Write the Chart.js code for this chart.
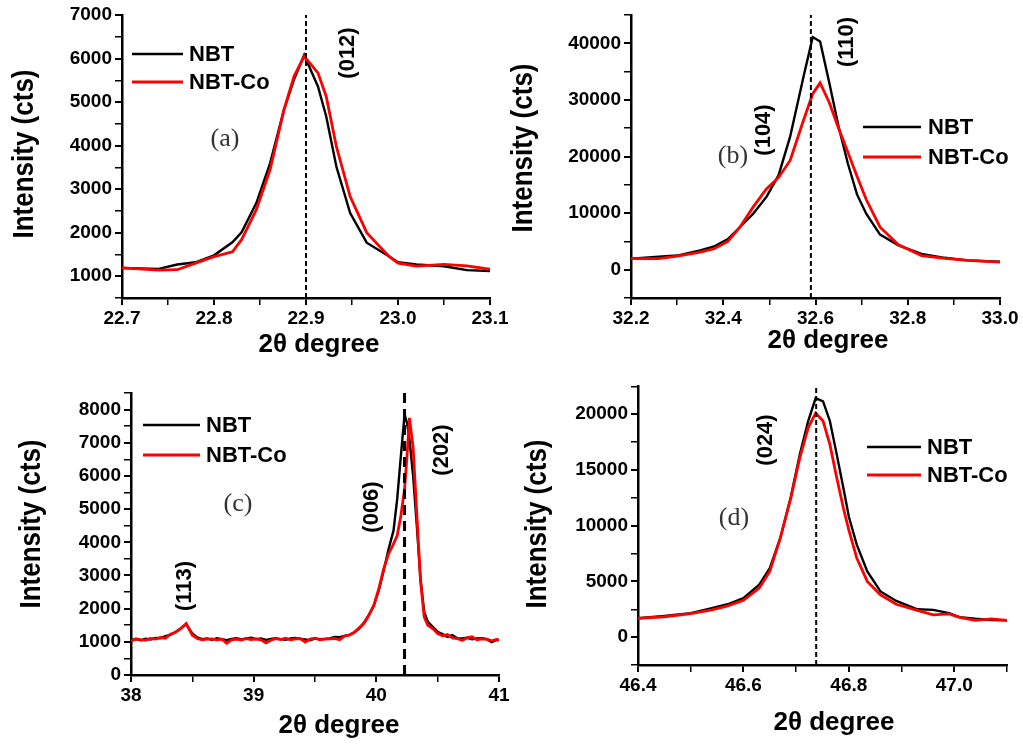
<!DOCTYPE html>
<html>
<head>
<meta charset="utf-8">
<script src="https://cdn.jsdelivr.net/npm/chart.js@4.4.1/dist/chart.umd.min.js"></script>
<style>
  body { margin: 0; background: #fff; width: 1023px; height: 744px; position: relative; overflow: hidden; }
  canvas { position: absolute; }
</style>
</head>
<body>
<canvas id="chartA" width="512" height="372" style="left:0;top:0"></canvas>
<canvas id="chartB" width="519" height="372" style="left:504px;top:0"></canvas>
<canvas id="chartC" width="512" height="372" style="left:0;top:372px"></canvas>
<canvas id="chartD" width="519" height="372" style="left:504px;top:372px"></canvas>
<script>
// --- Data: panel (a), (012) peak ---
const aTheta = [22.70, 22.74, 22.76, 22.78, 22.80, 22.82, 22.83, 22.846, 22.861, 22.876, 22.887, 22.898, 22.913, 22.922, 22.933, 22.948, 22.966, 22.99, 23.00, 23.02, 23.05, 23.075, 23.10];
const aNBT   = [1190, 1170, 1270, 1320, 1480, 1780, 2010, 2680, 3600, 4820, 5520, 6080, 5360, 4670, 3520, 2450, 1770, 1460, 1320, 1270, 1230, 1140, 1120];
const aNBTCo = [1190, 1140, 1150, 1300, 1450, 1560, 1840, 2530, 3450, 4820, 5590, 6050, 5670, 5130, 3980, 2830, 2000, 1460, 1300, 1230, 1270, 1240, 1160];
const aPeak = 22.9;

// --- Data: panel (b), (104)/(110) peaks ---
const bTheta = [32.20, 32.26, 32.30, 32.35, 32.38, 32.41, 32.436, 32.465, 32.494, 32.52, 32.545, 32.574, 32.594, 32.61, 32.63, 32.65, 32.67, 32.69, 32.71, 32.74, 32.78, 32.83, 32.88, 32.93, 33.00];
const bNBT   = [1950, 2300, 2500, 3400, 4100, 5400, 7500, 9900, 12900, 16700, 23500, 34100, 41100, 40300, 33000, 25300, 18800, 13300, 9900, 6200, 4300, 2800, 2100, 1650, 1400];
const bNBTCo = [1950, 1950, 2400, 3100, 3700, 5000, 7500, 11100, 14300, 16300, 19300, 26400, 31100, 33000, 29500, 25000, 20800, 16500, 12400, 7500, 4400, 2500, 2000, 1650, 1350];
const bPeak = 32.59;

// --- Data: panel (c), (113)/(006)/(202) peaks ---
const cTheta = [38.00, 38.04, 38.08, 38.12, 38.16, 38.20, 38.24, 38.28, 38.32, 38.36, 38.40, 38.45, 38.50, 38.54, 38.58, 38.62, 38.66, 38.70, 38.74, 38.78,
                38.82, 38.86, 38.90, 38.94, 38.98, 39.02, 39.06, 39.10, 39.14, 39.18, 39.22, 39.26, 39.30, 39.34, 39.38, 39.42, 39.46, 39.50, 39.54, 39.58,
                39.62, 39.66, 39.70, 39.74, 39.78, 39.82, 39.86, 39.90, 39.94, 39.98, 40.02, 40.06, 40.10, 40.14, 40.17, 40.20, 40.23, 40.25, 40.27, 40.30,
                40.33, 40.36, 40.39, 40.42, 40.46, 40.50, 40.54, 40.58, 40.62, 40.66, 40.70, 40.74, 40.78, 40.82, 40.86, 40.90, 40.94, 40.98, 41.00];
const cNBT   = [1060, 1080, 1050, 1090, 1070, 1120, 1110, 1170, 1210, 1290, 1390, 1530, 1250, 1130, 1080, 1100, 1060, 1110, 1080, 1050,
                1090, 1110, 1070, 1100, 1120, 1080, 1100, 1060, 1090, 1110, 1080, 1060, 1100, 1120, 1090, 1070, 1050, 1100, 1080, 1090,
                1100, 1150, 1140, 1180, 1210, 1290, 1400, 1580, 1820, 2100, 2550, 3150, 3800, 4350, 5300, 6600, 7850, 7600, 7100, 6000,
                4500, 2900, 1900, 1600, 1450, 1300, 1230, 1150, 1200, 1110, 1100, 1120, 1080, 1100, 1110, 1080, 990, 1060, 1050];
const cNBTCo = [1020, 1090, 1060, 1050, 1100, 1080, 1130, 1110, 1230, 1280, 1380, 1550, 1200, 1100, 1060, 1080, 1090, 1060, 1080, 960,
                1060, 1080, 1050, 1100, 1070, 1090, 1060, 970, 1050, 1100, 1070, 1110, 1060, 1090, 1100, 990, 1080, 1110, 1060, 1080,
                1090, 1100, 1060, 1170, 1200, 1280, 1420, 1560, 1800, 2100, 2600, 3200, 3650, 3950, 4200, 4800, 5600, 6600, 7750, 6850,
                4850, 2850, 1750, 1500, 1400, 1250, 1180, 1220, 1120, 1100, 1040, 1120, 1150, 1060, 1090, 1080, 1030, 1070, 1060];
const cPeak = 40.23;

// --- Data: panel (d), (024) peak ---
const dTheta = [46.40, 46.45, 46.50, 46.54, 46.57, 46.60, 46.63, 46.65, 46.67, 46.69, 46.707, 46.723, 46.737, 46.751, 46.764, 46.777, 46.79, 46.80, 46.815, 46.835, 46.86, 46.89, 46.93, 46.96, 46.99, 47.01, 47.04, 47.07, 47.10];
const dNBT   = [1700, 1900, 2150, 2600, 2950, 3500, 4700, 6200, 8900, 12600, 16400, 19400, 21450, 21150, 19400, 16400, 13300, 10800, 8300, 5900, 4100, 3250, 2500, 2450, 2150, 1800, 1650, 1540, 1500];
const dNBTCo = [1680, 1830, 2100, 2450, 2800, 3300, 4400, 5900, 8900, 12500, 16100, 18800, 20100, 19400, 17300, 14300, 11500, 9600, 7100, 5000, 3800, 2950, 2400, 2000, 2090, 1770, 1500, 1640, 1500];
const dPeak = 46.738;

const seriesNames = ['NBT', 'NBT-Co'];
const RED = '#ff0000';
const SANS = "'Liberation Sans', Arial, sans-serif";
const SERIF = "'Liberation Serif', 'Times New Roman', serif";

// --- Helpers ---
function isMult(v, step) {
  const r = v / step;
  return Math.abs(r - Math.round(r)) < 1e-6;
}

// draws legend, peak labels and axis titles
const panelText = {
  id: 'panelText',
  afterDraw(chart, args, o) {
    const c = chart.ctx;
    c.save();
    // legend
    [['#000', 2.4], [RED, 2.8]].forEach((s, i) => {
      const y = o.legend.y[i];
      c.strokeStyle = s[0];
      c.lineWidth = s[1];
      c.beginPath();
      c.moveTo(o.legend.x0, y);
      c.lineTo(o.legend.x1, y);
      c.stroke();
      c.fillStyle = '#000';
      c.font = 'bold 22px ' + SANS;
      c.textAlign = 'left';
      c.textBaseline = 'middle';
      c.fillText(seriesNames[i], o.legend.tx, y + 1);
    });
    // panel letter
    c.fillStyle = '#333';
    c.font = '26px ' + SERIF;
    c.textAlign = 'center';
    c.textBaseline = 'middle';
    c.fillText(o.letter.text, o.letter.x, o.letter.y);
    // hkl labels (rotated)
    c.fillStyle = '#000';
    c.font = 'bold 22px ' + SANS;
    o.hkl.forEach(h => {
      c.save();
      c.translate(h.x, h.y);
      c.rotate(-Math.PI / 2);
      c.fillText(h.text, 0, 0);
      c.restore();
    });
    // axis titles
    c.font = 'bold 26px ' + SANS;
    c.save();
    c.translate(o.yTitle.x, o.yTitle.y);
    c.rotate(-Math.PI / 2);
    c.scale(1, 1.1);
    c.fillText('Intensity (cts)', 0, 0);
    c.restore();
    c.fillText('2\u03b8 degree', o.xTitle.x, o.xTitle.y);
    c.restore();
  }
};

function buildPanel(id, p) {
  const canvas = document.getElementById(id);
  const W = canvas.width, H = canvas.height;
  const nbtPts = p.theta.map((x, i) => ({ x: x, y: p.nbt[i] }));
  const coPts = p.theta.map((x, i) => ({ x: x, y: p.co[i] }));
  const markPts = [{ x: p.peak, y: p.yMin }, { x: p.peak, y: p.yMax }];
  const tickFont = { family: SANS, size: 19, weight: 'bold' };

  return new Chart(canvas, {
    type: 'line',
    data: {
      datasets: [
        { data: markPts, borderColor: '#000', borderWidth: p.dashWidth, borderDash: p.dash, pointRadius: 0, order: 0 },
        { label: 'NBT-Co', data: coPts, borderColor: RED, borderWidth: 2.8, pointRadius: 0, tension: 0, order: 1 },
        { label: 'NBT', data: nbtPts, borderColor: '#000', borderWidth: 2.4, pointRadius: 0, tension: 0, order: 2 },
      ]
    },
    options: {
      responsive: false,
      animation: false,
      events: [],
      layout: {
        autoPadding: false,
        padding: { left: 0, top: p.area.top, right: W - p.area.right, bottom: 0 }
      },
      plugins: {
        legend: { display: false },
        tooltip: { enabled: false },
        panelText: p.text
      },
      scales: {
        x: {
          type: 'linear',
          min: p.xMin,
          max: p.xMax,
          afterFit: s => { s.height = H - p.area.bottom; },
          border: { color: '#000', width: 2.5 },
          grid: {
            drawOnChartArea: false, tickLength: 7, color: '#000',
            lineWidth: ctx => (ctx.tick && isMult(ctx.tick.value, p.xLabelStep)) ? 2 : 1.5
          },
          ticks: {
            stepSize: p.xStep,
            autoSkip: false,
            maxRotation: 0,
            padding: 2,
            color: '#000',
            font: tickFont,
            callback: v => isMult(v, p.xLabelStep) ? v.toFixed(p.xDec) : ''
          }
        },
        y: {
          min: p.yMin,
          max: p.yMax,
          afterFit: s => { s.width = p.area.left; },
          border: { color: '#000', width: 2.5 },
          grid: {
            drawOnChartArea: false, tickLength: 7, color: '#000',
            lineWidth: ctx => (ctx.tick && isMult(ctx.tick.value, p.yLabelStep)) ? 2 : 1.5
          },
          ticks: {
            stepSize: p.yStep,
            autoSkip: false,
            padding: 3,
            color: '#000',
            font: tickFont,
            callback: v => (isMult(v, p.yLabelStep) && v >= 0 && v <= p.yLabelMax) ? String(v) : ''
          }
        }
      }
    },
    plugins: [panelText]
  });
}

buildPanel('chartA', {
  theta: aTheta, nbt: aNBT, co: aNBTCo, peak: aPeak,
  xMin: 22.7, xMax: 23.1, xStep: 0.05, xLabelStep: 0.1, xDec: 1,
  yMin: 500, yMax: 7000, yStep: 500, yLabelStep: 1000, yLabelMax: 7000,
  dash: [5, 3], dashWidth: 2,
  area: { left: 122, top: 15, right: 490, bottom: 298 },
  text: {
    legend: { x0: 132, x1: 183, tx: 189, y: [54, 82] },
    letter: { text: '(a)', x: 225, y: 139 },
    hkl: [{ text: '(012)', x: 348, y: 53 }],
    yTitle: { x: 25, y: 154 },
    xTitle: { x: 319, y: 345 }
  }
});

buildPanel('chartB', {
  theta: bTheta, nbt: bNBT, co: bNBTCo, peak: bPeak,
  xMin: 32.2, xMax: 33.0, xStep: 0.1, xLabelStep: 0.2, xDec: 1,
  yMin: -5000, yMax: 45000, yStep: 5000, yLabelStep: 10000, yLabelMax: 40000,
  dash: [5, 3], dashWidth: 2,
  area: { left: 127, top: 15, right: 496, bottom: 298 },
  text: {
    legend: { x0: 359, x1: 417, tx: 424, y: [127, 157] },
    letter: { text: '(b)', x: 229, y: 156 },
    hkl: [{ text: '(104)', x: 260, y: 130 }, { text: '(110)', x: 343, y: 42 }],
    yTitle: { x: 20, y: 148 },
    xTitle: { x: 324, y: 341 }
  }
});

buildPanel('chartC', {
  theta: cTheta, nbt: cNBT, co: cNBTCo, peak: cPeak,
  xMin: 38, xMax: 41, xStep: 0.5, xLabelStep: 1, xDec: 0,
  yMin: 0, yMax: 8500, yStep: 500, yLabelStep: 1000, yLabelMax: 8000,
  dash: [10, 6], dashWidth: 3,
  area: { left: 131, top: 21, right: 499, bottom: 303 },
  text: {
    legend: { x0: 143, x1: 200, tx: 206, y: [53, 83] },
    letter: { text: '(c)', x: 238, y: 132 },
    hkl: [{ text: '(113)', x: 185, y: 214 }, { text: '(006)', x: 372, y: 135 }, { text: '(202)', x: 442, y: 78 }],
    yTitle: { x: 32, y: 152 },
    xTitle: { x: 339, y: 354 }
  }
});

buildPanel('chartD', {
  theta: dTheta, nbt: dNBT, co: dNBTCo, peak: dPeak,
  xMin: 46.4, xMax: 47.1, xStep: 0.1, xLabelStep: 0.2, xDec: 1,
  yMin: -2500, yMax: 22500, yStep: 2500, yLabelStep: 5000, yLabelMax: 20000,
  dash: [5, 3], dashWidth: 2,
  area: { left: 134, top: 13, right: 503, bottom: 293 },
  text: {
    legend: { x0: 363, x1: 417, tx: 423, y: [75, 103] },
    letter: { text: '(d)', x: 230, y: 146 },
    hkl: [{ text: '(024)', x: 262, y: 68 }],
    yTitle: { x: 34, y: 152 },
    xTitle: { x: 330, y: 351 }
  }
});
</script>
</body>
</html>
